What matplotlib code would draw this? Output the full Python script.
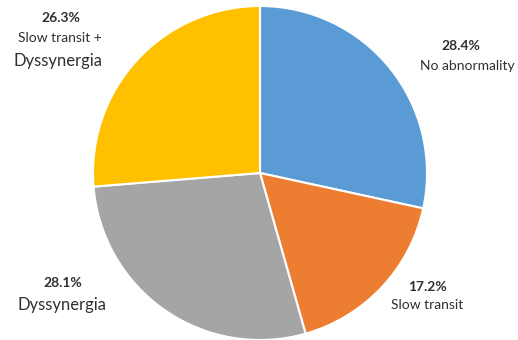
import matplotlib.pyplot as plt

categories = ['No abnormality', 'Slow transit', 'Dyssynergia', 'Slow transit +\nDyssynergia']
shares = [28.4, 17.2, 28.1, 26.3]
colors = ['#5B9BD5', '#ED7D31', '#A5A5A5', '#FFC000']

plt.rcParams['font.family'] = ['Lato', 'DejaVu Sans']

fig = plt.figure(figsize=(5.18, 3.4), dpi=100)
ax = fig.add_axes([0, 0, 1, 1])

# pie placed in pixel-like units so the labels can sit where the original has them
ax.pie(shares, colors=colors, startangle=90, counterclock=False,
       center=(260, 340 - 173), radius=167,
       wedgeprops=dict(edgecolor='white', linewidth=1.5))
ax.set_xlim(0, 518)
ax.set_ylim(0, 340)
ax.set_aspect('equal')
ax.axis('off')

txt = '#303030'
# label anchors (x, y from top) for each slice
pct_pos = [(461, 46), (427, 287), (63, 283), (61, 18)]
name_pos = [(467, 66), (427, 305), (62, 305), (60, 38)]
for i, cat in enumerate(categories):
    x, y = pct_pos[i]
    ax.text(x, 340 - y, f'{shares[i]}%', ha='center', va='center',
            fontsize=10, fontweight='bold', color=txt)
    x, y = name_pos[i]
    if cat == 'Dyssynergia':
        ax.text(x, 340 - y, cat, ha='center', va='center', fontsize=12, color=txt)
    elif '\n' in cat:
        first, second = cat.split('\n')
        ax.text(x, 340 - y, first, ha='center', va='center', fontsize=10, color=txt)
        ax.text(58, 340 - 61, second, ha='center', va='center', fontsize=12, color=txt)
    else:
        ax.text(x, 340 - y, cat, ha='center', va='center', fontsize=10, color=txt)

fig.savefig('out.png', dpi=100)
